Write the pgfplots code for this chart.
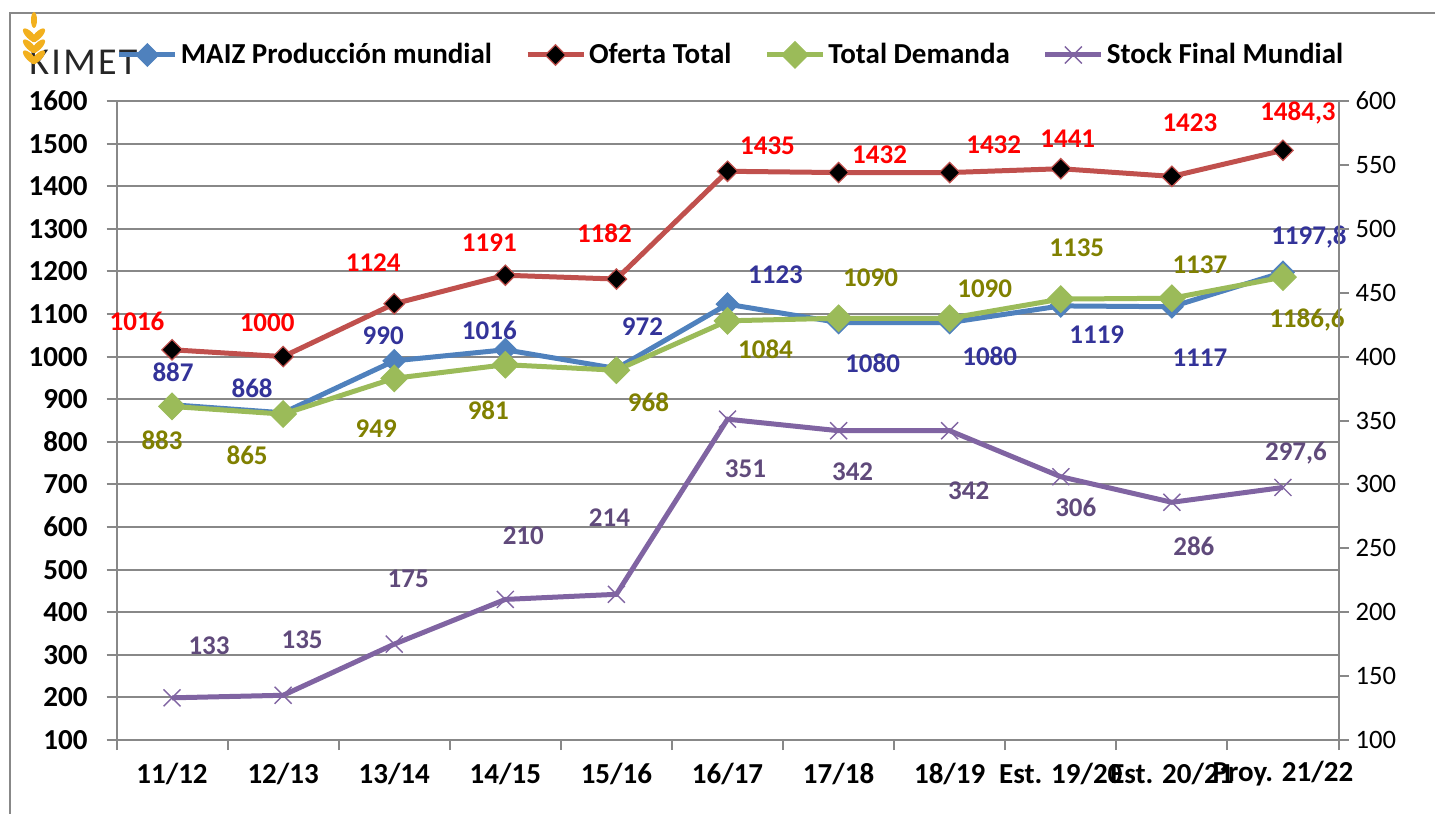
\documentclass[border=0pt]{standalone}
\usepackage{fontspec}
\setmainfont{Carlito}
\usepackage{pgfplots}
\usepackage{pgfplotstable}
\pgfplotsset{compat=1.18}

\definecolor{cProd}{HTML}{4F81BD}
\definecolor{cOf}{HTML}{C0504D}
\definecolor{cDem}{HTML}{9BBB59}
\definecolor{cSt}{HTML}{8064A2}
\definecolor{lProd}{HTML}{333399}
\definecolor{lOf}{HTML}{FF0000}
\definecolor{lDem}{HTML}{808000}
\definecolor{lSt}{HTML}{604A7B}
\definecolor{gridc}{HTML}{888888}
\definecolor{gold}{HTML}{F2B01E}

\newcommand\tfont{\fontsize{14.5bp}{16bp}\selectfont\bfseries}
\newcommand\lfont{\fontsize{13.5bp}{15bp}\selectfont\bfseries}
\newcommand\rfont{\fontsize{13.3bp}{15bp}\selectfont}

% x, value, label text, label offset in px (dx right, dy up)
\pgfplotstableread{
x y lab dx dy
0 887 887 1 32
1 868 868 -31 25
2 990 990 -11 25
3 1016 1016 -16 19
4 972 972 26 42
5 1123 1123 48 29
6 1080 1080 34 -41
7 1080 1080 40 -34
8 1119 1119 36 -29
9 1117 1117 28 -51
10 1197.8 1197,8 26 35
}\tProd

\pgfplotstableread{
x y lab dx dy
0 1016 1016 -35 28
1 1000 1000 -16 34
2 1124 1124 -21 41
3 1191 1191 -16 33
4 1182 1182 -12 46
5 1435 1435 40 26
6 1432 1432 41 18
7 1432 1432 44 28
8 1441 1441 7 30
9 1423 1423 18 54
10 1484.3 1484,3 15 37
}\tOf

\pgfplotstableread{
x y lab dx dy
0 883 883 -10 -34
1 865 865 -36 -41
2 949 949 -18 -50
3 981 981 -17 -46
4 968 968 32 -32
5 1084 1084 38 -28
6 1090 1090 32 41
7 1090 1090 35 30
8 1135 1135 16 51
9 1137 1137 28 33
10 1186.6 1186,6 24 -43
}\tDem

\pgfplotstableread{
x y lab dx dy
0 133 133 37 52
1 135 135 19 56
2 175 175 14 65
3 210 210 18 64
4 214 214 -7 77
5 351 351 18 -50
6 342 342 14 -41
7 342 342 19 -60
8 306 306 15 -31
9 286 286 22 -44
10 297.6 297,6 13 34
}\tSt

\pgfplotsset{
  lbl/.style={
    forget plot, draw=none, mark=none,
    nodes near coords, point meta=explicit symbolic,
    nodes near coords style={anchor=center, font=\lfont, text=#1},
  },
  sProd/.style={cProd, line width=2.5bp, mark=square*, mark size=4bp,
    mark options={rotate=45, solid, fill=cProd, draw=cProd, line width=0.5bp}},
  sOf/.style={cOf, line width=2.5bp, mark=square*, mark size=3.6bp,
    mark options={rotate=45, solid, fill=black, draw=cOf, line width=0.6bp}},
  sDem/.style={cDem, line width=2.5bp, mark=square*, mark size=4.7bp,
    mark options={rotate=45, solid, fill=cDem, draw=cDem, line width=0.5bp}},
  sSt/.style={cSt, line width=2.5bp, mark=x, mark size=6bp,
    mark options={solid, draw=cSt, line width=0.7bp}},
  base/.style={
    scale only axis, width=611bp, height=319.5bp,
    at={(58.25bp,37bp)}, anchor=south west,
    xmin=-0.5, xmax=10.5,
    /pgf/number format/assume math mode=true,
    /pgf/number format/1000 sep={},
    clip=false,
  },
}
% px -> data units: x 111.09 px per category, left y 0.426 px per unit, right y 1.278 px per unit
\newcommand\LX{\thisrow{x}+\thisrow{dx}/111.09}
\newcommand\LYl{\thisrow{y}+\thisrow{dy}/0.426}
\newcommand\LYr{\thisrow{y}+\thisrow{dy}/1.278}

\begin{document}
\begin{tikzpicture}
\useasboundingbox (0,0) rectangle (717.5bp,407bp);
% frame and logo
\draw[gridc, line width=1bp] (5bp,0bp) -- (5bp,400.5bp) -- (717.5bp,400.5bp);
\node[anchor=west, inner sep=0pt, text=black!85] at (14.5bp,376bp)
  {\fontsize{19bp}{20bp}\selectfont\addfontfeatures{LetterSpace=6}KIMET};
\begin{scope}[gold]
  \fill (17bp,397bp) ellipse (1.5bp and 4bp);
  \foreach \yy in {391.5,386,380.5} {
    \fill[rotate around={45:(17bp,\yy bp)}] (14bp,\yy bp) ellipse (1.8bp and 4.5bp);
    \fill[rotate around={-45:(17bp,\yy bp)}] (20bp,\yy bp) ellipse (1.8bp and 4.5bp);
  }
\end{scope}

\begin{axis}[base,
  ymin=100, ymax=1600, ytick={100,200,...,1600},
  xtick={0,...,10},
  xticklabels={11/12,12/13,13/14,14/15,15/16,16/17,17/18,18/19,Est. 19/20,Est. 20/21,Proy. 21/22},
  minor xtick={-0.5,0.5,...,10.5},
  every major x tick/.append style={draw=none},
  axis x line*=bottom, axis y line*=left,
  axis line style={gridc, line width=1bp, -},
  ymajorgrids, grid style={gridc, line width=1bp},
  tick style={gridc, line width=1bp},
  tick align=outside, major tick length=5bp, minor tick length=5bp,
  yticklabel style={font=\tfont, anchor=east, xshift=-6bp},
  xticklabel style={font=\tfont, anchor=center, yshift=-12bp},
  legend columns=4,
  legend style={at={(rel axis cs:0,1.072)}, anchor=west, draw=none, fill=none,
    font=\tfont, inner sep=0pt, nodes={inner sep=1.5bp},
    /tikz/every even column/.append style={column sep=15bp}},
  legend image code/.code={\draw[mark repeat=2, mark phase=2, #1]
    plot coordinates {(0bp,0bp)(14bp,0bp)(28bp,0bp)};},
]
\addplot[sProd] table[x=x, y=y]{\tProd};
\addlegendentry{MAIZ Producción mundial}
\addplot[sOf] table[x=x, y=y]{\tOf};
\addlegendentry{Oferta Total}
\addplot[sDem] table[x=x, y=y]{\tDem};
\addlegendentry{Total Demanda}
\addlegendimage{sSt}
\addlegendentry{Stock Final Mundial}
\addplot[lbl=lProd] table[x expr=\LX, y expr=\LYl, meta=lab]{\tProd};
\addplot[lbl=lOf] table[x expr=\LX, y expr=\LYl, meta=lab]{\tOf};
\addplot[lbl=lDem] table[x expr=\LX, y expr=\LYl, meta=lab]{\tDem};
\end{axis}

\begin{axis}[base,
  ymin=100, ymax=600, ytick={100,150,...,600},
  axis y line*=right, axis x line=none,
  axis line style={gridc, line width=1bp, -},
  tick style={gridc, line width=1bp},
  tick align=outside, major tick length=5bp,
  yticklabel style={font=\rfont, anchor=west},
]
\addplot[sSt] table[x=x, y=y]{\tSt};
\addplot[lbl=lSt] table[x expr=\LX, y expr=\LYr, meta=lab]{\tSt};
\end{axis}
\end{tikzpicture}
\end{document}
